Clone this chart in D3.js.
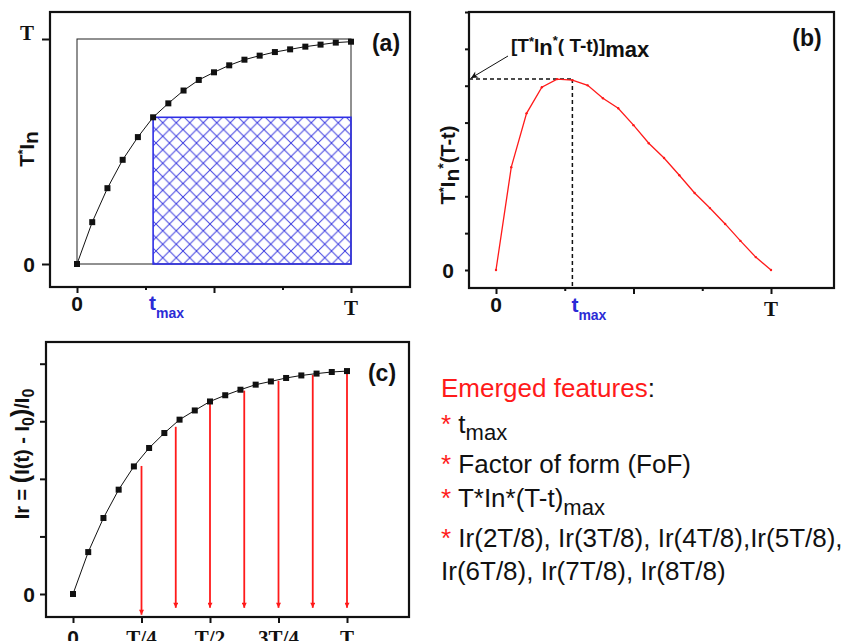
<!DOCTYPE html>
<html>
<head>
<meta charset="utf-8">
<script src="https://cdn.jsdelivr.net/npm/d3@7"></script>
<style>
  body { margin: 0; background: #fff; }
</style>
</head>
<body>
<div class="canvas"></div>
<script>
// time steps, T = 18 steps
const tSteps = [0, 1, 2, 3, 4, 5, 6, 7, 8, 9, 10, 11, 12, 13, 14, 15, 16, 17, 18];
const T = 18;
const tMax = 5;

// (a) normalised T*In
const inNorm = [0, 0.186, 0.337, 0.463, 0.564, 0.652, 0.714, 0.771, 0.818, 0.852,
  0.883, 0.908, 0.926, 0.942, 0.954, 0.966, 0.975, 0.984, 0.988];

// (b) T*In*(T-t), tick units
const prodTT = [0, 2.79, 4.25, 4.96, 5.18, 5.15, 5.01, 4.66, 4.39, 3.93,
  3.44, 3.04, 2.57, 2.09, 1.68, 1.25, 0.79, 0.35, 0];
const bYTicks = [0, 1, 2, 3, 4, 5, 6, 7];

// (c) Ir = (I(t) - I0)/I0
const irVals = [0, 0.182, 0.330, 0.453, 0.554, 0.634, 0.699, 0.757, 0.797, 0.836,
  0.863, 0.887, 0.909, 0.923, 0.938, 0.949, 0.957, 0.964, 0.968];
const cYTicks = [0, 0.25, 0.5, 0.75, 1];
const arrowT = [4.5, 6.75, 9, 11.25, 13.5, 15.75, 18];
const arrowTop = [0.556, 0.726, 0.825, 0.883, 0.926, 0.951, 0.965];
const arrowEnd = [-0.09, -0.06, -0.06, -0.06, -0.06, -0.06, -0.06];

const xMajor = [0, 9, 18];
const xMinor = [4.5, 13.5];
const cXTicks = [0, 4.5, 9, 13.5, 18];
const cXLabels = ['0', 'T/4', 'T/2', '3T/4', 'T'];

const sans = 'Liberation Sans, Arial, sans-serif';
const serif = 'Liberation Serif, Times New Roman, serif';
const blue = '#2b2bd6';
const red = '#ff1a1a';

const svg = d3.select('.canvas')
  .append('svg')
    .attr('width', 851)
    .attr('height', 641)
    .style('display', 'block');

const defs = svg.append('defs');
const pat = defs.append('pattern')
    .attr('id', 'hatch')
    .attr('patternUnits', 'userSpaceOnUse')
    .attr('width', 13.5)
    .attr('height', 13.5)
    .attr('x', 156)
    .attr('y', 116);
pat.append('path')
    .attr('d', 'M0,0L13.5,13.5M13.5,0L0,13.5')
    .attr('stroke', '#3d3de0')
    .attr('stroke-width', 1);

defs.append('marker')
    .attr('id', 'arrBlack')
    .attr('viewBox', '0 0 10 10')
    .attr('refX', 10).attr('refY', 5)
    .attr('markerWidth', 9).attr('markerHeight', 7)
    .attr('markerUnits', 'userSpaceOnUse')
    .attr('orient', 'auto')
  .append('path')
    .attr('d', 'M0,0L10,5L0,10L3,5Z')
    .attr('fill', '#111');

defs.append('marker')
    .attr('id', 'arrRed')
    .attr('viewBox', '0 0 10 10')
    .attr('refX', 10).attr('refY', 5)
    .attr('markerWidth', 6).attr('markerHeight', 5)
    .attr('markerUnits', 'userSpaceOnUse')
    .attr('orient', 'auto')
  .append('path')
    .attr('d', 'M0,0L10,5L0,10Z')
    .attr('fill', red);

// helpers
const frame = (f) => svg.append('rect')
    .attr('x', f.x0).attr('y', f.y0)
    .attr('width', f.x1 - f.x0).attr('height', f.y1 - f.y0)
    .attr('fill', 'none').attr('stroke', '#111').attr('stroke-width', 2.2);

const ticks = (axis, tr) => {
  const g = svg.append('g').attr('transform', tr).call(axis);
  g.select('.domain').remove();
  g.selectAll('line').attr('stroke', '#111').attr('stroke-width', 2);
  return g;
};

const label = (x, y, txt, font, size, anchor, color) => svg.append('text')
    .attr('x', x).attr('y', y)
    .attr('text-anchor', anchor || 'middle')
    .attr('font-family', font)
    .attr('font-weight', 'bold')
    .attr('font-size', size)
    .attr('fill', color || '#111')
    .text(txt);

const tmaxLabel = (x, y) => {
  const t = svg.append('text')
      .attr('x', x).attr('y', y)
      .attr('font-family', sans).attr('font-weight', 'bold')
      .attr('fill', blue);
  t.append('tspan').attr('font-size', 21).text('t');
  t.append('tspan').attr('font-size', 14).attr('dy', 8).text('max');
};

const squares = (x, y, data) => svg.append('g').selectAll('rect')
  .data(data)
  .join('rect')
    .attr('x', (d, i) => x(tSteps[i]) - 3)
    .attr('y', d => y(d) - 3)
    .attr('width', 6).attr('height', 6)
    .attr('fill', '#111');

// ---------------- panel (a)
const fa = { x0: 50, y0: 12, x1: 410, y1: 287 };
const xa = d3.scaleLinear().domain([0, T]).range([77, 351]);
const ya = d3.scaleLinear().domain([0, 1]).range([264, 39]);

frame(fa);
svg.append('rect')
    .attr('x', xa(0)).attr('y', ya(1))
    .attr('width', xa(T) - xa(0)).attr('height', ya(0) - ya(1))
    .attr('fill', 'none').attr('stroke', '#222').attr('stroke-width', 1);

svg.append('rect')
    .attr('x', xa(tMax)).attr('y', ya(inNorm[tMax]))
    .attr('width', xa(T) - xa(tMax)).attr('height', ya(0) - ya(inNorm[tMax]))
    .attr('fill', 'url(#hatch)').attr('stroke', '#2f2fe6').attr('stroke-width', 1.6);

svg.append('path')
    .datum(inNorm)
    .attr('fill', 'none').attr('stroke', '#111').attr('stroke-width', 1)
    .attr('d', d3.line().x((d, i) => xa(tSteps[i])).y(d => ya(d)));
squares(xa, ya, inNorm);

ticks(d3.axisBottom(xa).tickValues(xMajor).tickSize(6).tickFormat(''), `translate(0,${fa.y1})`);
ticks(d3.axisBottom(xa).tickValues(xMinor).tickSize(3).tickFormat(''), `translate(0,${fa.y1})`);
ticks(d3.axisLeft(ya).tickValues([0, 1]).tickSize(8).tickFormat(''), `translate(${fa.x0},0)`);

label(xa(0), 311, '0', sans, 21);
label(xa(T), 315, 'T', serif, 21);
tmaxLabel(xa(tMax) - 4, 310);
label(29, ya(0) + 8, '0', sans, 21);
label(27, ya(1) + 1, 'T', serif, 21);
label(386, 51, '(a)', sans, 23);

const tla = svg.append('text')
    .attr('transform', 'translate(34,149) rotate(-90)')
    .attr('text-anchor', 'middle')
    .attr('font-family', sans).attr('font-weight', 'bold').attr('fill', '#111');
tla.append('tspan').attr('font-size', 20).text('T');
tla.append('tspan').attr('font-size', 13).attr('dy', -7).text('*');
tla.append('tspan').attr('font-size', 20).attr('dy', 7).text('I');
tla.append('tspan').attr('font-size', 21).attr('dy', 4).text('n');

// ---------------- panel (b)
const fb = { x0: 469, y0: 12, x1: 834, y1: 288 };
const xb = d3.scaleLinear().domain([0, T]).range([496, 771]);
const yb = d3.scaleLinear().domain([0, 7]).range([270, 12]);

frame(fb);
const peak = d3.max(prodTT);
svg.append('line')
    .attr('x1', fb.x0).attr('x2', xb(tMax))
    .attr('y1', yb(peak)).attr('y2', yb(peak))
    .attr('stroke', '#111').attr('stroke-width', 1.5).attr('stroke-dasharray', '4,3');
svg.append('line')
    .attr('x1', xb(tMax)).attr('x2', xb(tMax))
    .attr('y1', yb(peak)).attr('y2', fb.y1)
    .attr('stroke', '#111').attr('stroke-width', 1.5).attr('stroke-dasharray', '4,3');

svg.append('path')
    .datum(prodTT)
    .attr('fill', 'none').attr('stroke', red).attr('stroke-width', 1.3)
    .attr('d', d3.line().x((d, i) => xb(tSteps[i])).y(d => yb(d)));
svg.append('g').selectAll('circle')
  .data(prodTT)
  .join('circle')
    .attr('cx', (d, i) => xb(tSteps[i]))
    .attr('cy', d => yb(d))
    .attr('r', 1.2)
    .attr('fill', red);

ticks(d3.axisBottom(xb).tickValues(xMajor).tickSize(6).tickFormat(''), `translate(0,${fb.y1})`);
ticks(d3.axisBottom(xb).tickValues(xMinor).tickSize(3).tickFormat(''), `translate(0,${fb.y1})`);
ticks(d3.axisLeft(yb).tickValues(bYTicks).tickSize(4).tickFormat(''), `translate(${fb.x0},0)`);

label(xb(0), 312, '0', sans, 21);
label(xb(T), 316, 'T', serif, 21);
tmaxLabel(xb(tMax) - 1, 312);
label(448, yb(0) + 8, '0', sans, 21);
label(807, 46, '(b)', sans, 23);

svg.append('line')
    .attr('x1', 508).attr('y1', 56)
    .attr('x2', fb.x0 + 2).attr('y2', yb(peak) - 1)
    .attr('stroke', '#111').attr('stroke-width', 1)
    .attr('marker-end', 'url(#arrBlack)');

const ann = svg.append('text')
    .attr('x', 511).attr('y', 52)
    .attr('font-family', sans).attr('font-weight', 'bold').attr('fill', '#111');
ann.append('tspan').attr('font-size', 19).text('[T');
ann.append('tspan').attr('font-size', 13).attr('dy', -6).text('*');
ann.append('tspan').attr('font-size', 19).attr('dy', 6).text('I');
ann.append('tspan').attr('font-size', 22).attr('dy', 3).text('n');
ann.append('tspan').attr('font-size', 13).attr('dy', -10).text('*');
ann.append('tspan').attr('font-size', 19).attr('dy', 7).text('( T-t)]');
ann.append('tspan').attr('font-size', 22).attr('dy', 5).text('max');

const tlb = svg.append('text')
    .attr('transform', 'translate(455,165) rotate(-90)')
    .attr('text-anchor', 'middle')
    .attr('font-family', sans).attr('font-weight', 'bold').attr('fill', '#111');
tlb.append('tspan').attr('font-size', 20).text('T');
tlb.append('tspan').attr('font-size', 13).attr('dy', -7).text('*');
tlb.append('tspan').attr('font-size', 20).attr('dy', 7).text('I');
tlb.append('tspan').attr('font-size', 21).attr('dy', 4).text('n');
tlb.append('tspan').attr('font-size', 14).attr('dy', -11).text('*');
tlb.append('tspan').attr('font-size', 20).attr('dy', 7).text('(T-t)');

// ---------------- panel (c)
const fc = { x0: 46, y0: 342, x1: 409, y1: 617 };
const xc = d3.scaleLinear().domain([0, T]).range([73, 347]);
const yc = d3.scaleLinear().domain([0, 1]).range([594, 363.7]);

frame(fc);
svg.append('path')
    .datum(irVals)
    .attr('fill', 'none').attr('stroke', '#111').attr('stroke-width', 1)
    .attr('d', d3.line().x((d, i) => xc(tSteps[i])).y(d => yc(d)));

svg.append('g').selectAll('line')
  .data(arrowT)
  .join('line')
    .attr('x1', d => xc(d)).attr('x2', d => xc(d))
    .attr('y1', (d, i) => yc(arrowTop[i]))
    .attr('y2', (d, i) => yc(arrowEnd[i]))
    .attr('stroke', red).attr('stroke-width', 1.8)
    .attr('marker-end', 'url(#arrRed)');

squares(xc, yc, irVals);

ticks(d3.axisBottom(xc).tickValues(cXTicks).tickSize(6).tickFormat(''), `translate(0,${fc.y1})`);
ticks(d3.axisLeft(yc).tickValues(cYTicks).tickSize(6).tickFormat(''), `translate(${fc.x0},0)`);

svg.append('g').selectAll('text')
  .data(cXTicks)
  .join('text')
    .attr('x', d => xc(d))
    .attr('y', 645)
    .attr('text-anchor', 'middle')
    .attr('font-family', (d, i) => i === 0 ? sans : serif)
    .attr('font-weight', 'bold')
    .attr('font-size', 21)
    .attr('fill', '#111')
    .text((d, i) => cXLabels[i]);

label(29, yc(0) + 8, '0', sans, 21);
label(382, 381, '(c)', sans, 23);

const tlc = svg.append('text')
    .attr('transform', 'translate(29,454) rotate(-90)')
    .attr('text-anchor', 'middle')
    .attr('font-family', sans).attr('font-weight', 'bold').attr('fill', '#111');
tlc.append('tspan').attr('font-size', 20).text('Ir = ');
tlc.append('tspan').attr('font-size', 25).text('(');
tlc.append('tspan').attr('font-size', 20).text('I(t) - I');
tlc.append('tspan').attr('font-size', 16).attr('dy', 5).text('0');
tlc.append('tspan').attr('font-size', 25).attr('dy', -5).text(')');
tlc.append('tspan').attr('font-size', 20).text('/I');
tlc.append('tspan').attr('font-size', 16).attr('dy', 5).text('0');

// ---------------- emerged features text
const notes = svg.append('g')
    .attr('font-family', sans)
    .attr('font-size', 26)
    .attr('fill', '#111');

const l1 = notes.append('text').attr('x', 441).attr('y', 397);
l1.append('tspan').attr('fill', red).text('Emerged features');
l1.append('tspan').text(':');

const l2 = notes.append('text').attr('x', 441).attr('y', 433);
l2.append('tspan').attr('fill', red).text('* ');
l2.append('tspan').text('t');
l2.append('tspan').attr('dy', 7).attr('font-size', 22).text('max');

const l3 = notes.append('text').attr('x', 441).attr('y', 473);
l3.append('tspan').attr('fill', red).text('* ');
l3.append('tspan').text('Factor of form (FoF)');

const l4 = notes.append('text').attr('x', 441).attr('y', 507);
l4.append('tspan').attr('fill', red).text('* ');
l4.append('tspan').text('T*In*(T-t)');
l4.append('tspan').attr('dy', 8).attr('font-size', 22).text('max');

const l5 = notes.append('text').attr('x', 441).attr('y', 547);
l5.append('tspan').attr('fill', red).text('* ');
l5.append('tspan').text('Ir(2T/8), Ir(3T/8), Ir(4T/8),Ir(5T/8),');

notes.append('text').attr('x', 441).attr('y', 580)
    .text('Ir(6T/8), Ir(7T/8), Ir(8T/8)');
</script>
</body>
</html>
